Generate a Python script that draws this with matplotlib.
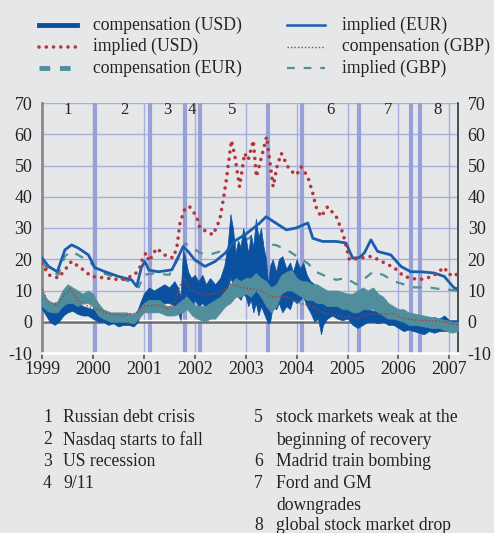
import glob
import matplotlib
matplotlib.use("Agg")
import matplotlib.pyplot as plt
from matplotlib import font_manager

# ---- data (years as decimals, values in basis points) ----
impl_eur_t = [1999.0, 1999.13, 1999.3, 1999.45, 1999.58, 1999.71, 1999.91, 2000.04, 2000.24,
              2000.5, 2000.76, 2000.86, 2000.95, 2001.02, 2001.1, 2001.29, 2001.55, 2001.68,
              2001.77, 2001.87, 2002.0, 2002.2, 2002.4, 2002.6, 2002.8, 2003.0, 2003.27, 2003.4,
              2003.6, 2003.8, 2003.99, 2004.22, 2004.32, 2004.51, 2004.78, 2004.97, 2005.1,
              2005.23, 2005.33, 2005.46, 2005.59, 2005.85, 2006.05, 2006.24, 2006.44, 2006.7,
              2006.9, 2007.09, 2007.17]
impl_eur_v = [20.4, 17.7, 16.0, 23.0, 24.6, 23.6, 21.4, 17.3, 16.0,
              14.5, 13.4, 11.3, 17.3, 19.3, 16.5, 16.0, 16.6, 20.9,
              24.0, 22.5, 19.8, 17.7, 19.3, 22.0, 26.0, 28.0, 31.5, 33.6,
              31.5, 29.4, 30.0, 31.6, 26.7, 25.7, 25.7, 25.2, 20.4,
              20.5, 22.0, 26.2, 22.5, 21.4, 17.7, 16.0, 16.0, 15.6,
              14.5, 10.9, 10.5]

impl_usd_t = [1999.0, 1999.13, 1999.32, 1999.45, 1999.58, 1999.78, 1999.97, 2000.24, 2000.56,
              2000.82, 2000.92, 2000.99, 2001.05, 2001.1, 2001.25, 2001.45, 2001.58, 2001.65,
              2001.71, 2001.81, 2001.9, 2002.04, 2002.1, 2002.17, 2002.36, 2002.49, 2002.56,
              2002.62, 2002.72, 2002.79, 2002.88, 2002.98, 2003.05, 2003.15, 2003.21, 2003.3,
              2003.41, 2003.54, 2003.62, 2003.7, 2003.86, 2004.0, 2004.09, 2004.22, 2004.32,
              2004.38, 2004.48, 2004.61, 2004.78, 2004.91, 2005.04, 2005.23, 2005.46, 2005.62,
              2005.79, 2005.89, 2006.11, 2006.41, 2006.67, 2006.9, 2006.99, 2007.12, 2007.17]
impl_usd_v = [18.7, 15.0, 14.0, 16.6, 19.3, 17.0, 14.5, 14.0, 13.4,
              15.0, 17.3, 21.0, 22.0, 19.3, 23.5, 20.9, 20.5, 24.0,
              31.6, 36.4, 36.8, 33.6, 30.0, 29.4, 27.8, 32.6, 39.0,
              45.4, 58.0, 52.8, 43.2, 53.9, 51.8, 58.0, 46.4, 52.0,
              59.2, 43.2, 50.0, 53.9, 48.6, 47.0, 49.6, 46.4, 41.0,
              36.8, 33.6, 36.8, 33.6, 28.3, 19.8, 20.3, 20.9, 19.8,
              18.2, 17.7, 14.5, 13.4, 14.5, 17.4, 15.0, 15.6, 14.0]

comp_gbp_t = [1999.0, 1999.1, 1999.3, 1999.45, 1999.55, 1999.7, 1999.9, 2000.1, 2000.3, 2000.6,
              2000.9, 2001.0, 2001.3, 2001.45, 2001.6, 2001.72, 2001.8, 2001.9, 2002.2, 2002.5,
              2002.7, 2002.9, 2003.1, 2003.3, 2003.5, 2003.8, 2004.05, 2004.3, 2004.5, 2004.8,
              2005.0, 2005.2, 2005.35, 2005.6, 2005.9, 2006.1, 2006.4, 2006.7, 2006.9, 2007.17]
comp_gbp_v = [10.5, 7.0, 5.0, 9.0, 10.5, 7.0, 5.0, 4.0, 2.5, 2.0,
              3.0, 5.0, 5.4, 4.0, 6.0, 12.0, 14.0, 10.0, 8.5, 9.5,
              12.0, 11.0, 10.5, 10.0, 8.0, 8.0, 6.0, 5.0, 3.0, 2.0,
              1.5, 1.0, 2.5, 2.5, 2.6, 1.0, 0.5, 0.3, 0.0, -1.0]

impl_gbp_t = [1999.0, 1999.13, 1999.32, 1999.45, 1999.58, 1999.75, 1999.95, 2000.1, 2000.3, 2000.5,
              2000.8, 2000.9, 2001.0, 2001.2, 2001.5, 2001.7, 2001.8, 2001.9, 2002.1, 2002.3,
              2002.6, 2002.8, 2003.0, 2003.2, 2003.35, 2003.6, 2003.86, 2004.05, 2004.22, 2004.38,
              2004.58, 2004.78, 2004.97, 2005.17, 2005.35, 2005.5, 2005.7, 2005.9, 2006.1, 2006.3,
              2006.6, 2006.8, 2007.17]
impl_gbp_v = [19.0, 16.5, 15.0, 21.0, 22.5, 21.0, 19.0, 16.0, 15.0, 14.0,
              12.5, 11.0, 15.0, 15.5, 15.0, 21.0, 25.0, 24.5, 22.0, 21.5,
              23.0, 25.0, 26.0, 28.3, 25.0, 24.5, 22.5, 20.4, 18.7, 16.0,
              14.5, 13.4, 14.0, 12.0, 14.0, 16.0, 15.0, 13.0, 12.0, 11.0,
              11.0, 10.5, 10.0]

# noisy daily series, kept as low / high envelopes
comp_usd_t = [1999.0, 1999.08, 1999.15, 1999.25, 1999.33, 1999.42, 1999.5, 1999.6, 1999.7, 1999.8,
              1999.9, 2000.0, 2000.1, 2000.2, 2000.3, 2000.4, 2000.5, 2000.6, 2000.7, 2000.8,
              2000.88, 2000.95, 2001.0, 2001.1, 2001.2, 2001.3, 2001.4, 2001.5, 2001.6, 2001.67,
              2001.72, 2001.77, 2001.82, 2001.87, 2001.93, 2002.0, 2002.07, 2002.15, 2002.22, 2002.3,
              2002.4, 2002.5, 2002.58, 2002.65, 2002.7, 2002.75, 2002.8, 2002.85, 2002.9, 2002.95,
              2003.0, 2003.05, 2003.1, 2003.15, 2003.2, 2003.25, 2003.3, 2003.35, 2003.4, 2003.44,
              2003.48, 2003.53, 2003.6, 2003.65, 2003.72, 2003.8, 2003.87, 2003.93, 2004.0, 2004.07,
              2004.13, 2004.2, 2004.27, 2004.35, 2004.42, 2004.48, 2004.52, 2004.6, 2004.7, 2004.8,
              2004.9, 2005.0, 2005.1, 2005.2, 2005.3, 2005.4, 2005.5, 2005.6, 2005.7, 2005.8,
              2005.9, 2006.0, 2006.1, 2006.2, 2006.3, 2006.4, 2006.5, 2006.6, 2006.7, 2006.8,
              2006.9, 2007.0, 2007.1, 2007.17]
comp_usd_lo = [4, 2, 0, -1, 0, 2, 3, 3.5, 2.5, 2,
               2, 1, 0, 0, -1, -0.5, -1.5, -1, -1, -1.5,
               0, 3, 4, 6, 5, 5, 6, 6, 5, 3,
               0.5, 6, 9, 6, 4, 7, 5, 6, 4, 6,
               5, 7, 8, 11, 14, 12, 10, 8, 7, 9,
               8, 5, 7, 3, 6, 2, 5, 3, 1, -0.5,
               0, 5, 4, 6, 3, 5, 4, 7, 6, 7,
               8, 5, 3, 0, 1, -4, -1, 1, 2, 1,
               0.5, 1, -1, -2, -1, 0, 0, -0.5, 0, -1,
               -1, -2, -3, -2.5, -3, -3.5, -4, -3, -3.5, -3,
               -3, -3, -2, -2]
comp_usd_hi = [8, 7, 5, 3.5, 4.5, 6, 7.5, 7, 6.5, 5,
               4.5, 4, 3.5, 3, 2.5, 2.5, 2, 2, 1.5, 2,
               4, 7, 9, 11, 10, 11, 12, 11, 13, 11,
               8, 23, 20, 16, 14, 15, 13, 15, 12, 14,
               12, 14, 18, 25, 34.5, 30, 22, 26, 24, 30,
               27, 22, 28, 24, 33, 27, 30, 24, 20, 12,
               18, 20, 16, 20, 21, 17, 19, 16, 20, 17,
               19, 15, 13, 12, 10, 8, 9, 10, 8, 9,
               7, 8, 6, 5, 5, 4, 3.5, 4, 3.5, 3,
               3, 2, 1.5, 1, 1.5, 0.5, 1, 1, 1.5, 1,
               2, 0.5, 0.5, 0.5]

comp_eur_t = [1999.0, 1999.1, 1999.2, 1999.3, 1999.4, 1999.5, 1999.6, 1999.7, 1999.8, 1999.9,
              2000.0, 2000.1, 2000.2, 2000.35, 2000.5, 2000.65, 2000.8, 2000.9, 2001.0, 2001.1,
              2001.3, 2001.45, 2001.6, 2001.75, 2001.85, 2001.95, 2002.05, 2002.2, 2002.3, 2002.4,
              2002.5, 2002.6, 2002.7, 2002.8, 2002.9, 2003.0, 2003.1, 2003.2, 2003.3, 2003.4,
              2003.5, 2003.6, 2003.7, 2003.8, 2003.9, 2004.0, 2004.1, 2004.2, 2004.3, 2004.4,
              2004.5, 2004.6, 2004.7, 2004.8, 2004.9, 2005.0, 2005.1, 2005.2, 2005.3, 2005.4,
              2005.5, 2005.6, 2005.7, 2005.8, 2005.9, 2006.0, 2006.1, 2006.2, 2006.35, 2006.5,
              2006.65, 2006.8, 2006.95, 2007.05, 2007.17]
comp_eur_lo = [5, 3.5, 3, 3, 5, 6, 6, 5, 6, 6,
               5, 2, 1, 0, 0, 0, -0.5, 1, 3, 3,
               3, 2, 2, 3, 4, 2, 1, 0, 1, 1,
               3, 5, 6, 8, 8, 9, 8, 10, 8, 5,
               3, 5, 9, 10, 10, 9, 8, 7, 7, 6,
               6, 5, 5, 5, 4, 4, 3, 3, 4, 4,
               4, 3, 2, 1, 1, 0.5, 0, -1, -1, -1.5,
               -2, -2, -3, -3.5, -3]
comp_eur_hi = [10, 7, 6, 6.5, 10, 12, 11, 10, 9, 10,
               9, 6, 4, 3, 3, 3, 2.5, 4, 6, 7,
               7, 5, 5, 7, 8, 6, 5, 5, 6, 7,
               8, 10, 12, 14, 13, 14, 14, 15.6, 14, 13,
               11, 12, 15, 16, 16.6, 14, 13, 13, 12, 12,
               11, 10, 10, 10, 9.5, 9, 9, 10, 11, 10,
               11, 9, 8, 6, 5, 4, 4, 3, 2.5, 2,
               1.5, 1, 0.5, 0, 0]

event_dates = [2000.04, 2001.13, 2001.8, 2002.1, 2003.43, 2004.1, 2005.23, 2006.25, 2006.42]
event_label_pos = [1999.5, 2000.61, 2001.46, 2001.95, 2002.73, 2004.67, 2005.8, 2006.76]
event_labels = ["1", "2", "3", "4", "5", "6", "7", "8"]

legend_labels = ["compensation (USD)", "implied (USD)", "compensation (EUR)",
                 "implied (EUR)", "compensation (GBP)", "implied (GBP)"]
notes_left = ["Russian debt crisis", "Nasdaq starts to fall", "US recession", "9/11"]
notes_right = ["stock markets weak at the\nbeginning of recovery", "Madrid train bombing",
               "Ford and GM\ndowngrades", "global stock market drop"]

years = list(range(1999, 2008))

# ---- fonts: look for a Times-like serif ----
for pat in ["LiberationSerif*.ttf", "Tinos*.ttf", "NimbusRoman*", "FreeSerif*.ttf", "Times*.ttf"]:
    for f in glob.glob("/usr/share/fonts/**/" + pat, recursive=True):
        try:
            font_manager.fontManager.addfont(f)
        except Exception:
            pass
have = {f.name for f in font_manager.fontManager.ttflist}
SERIF = "DejaVu Serif"
for name in ["Liberation Serif", "Tinos", "Nimbus Roman", "Nimbus Roman No9 L", "FreeSerif",
             "Times New Roman"]:
    if name in have:
        SERIF = name
        break
plt.rcParams["font.family"] = [SERIF, "DejaVu Serif"]
plt.rcParams["axes.unicode_minus"] = False
FS = 13 if SERIF != "DejaVu Serif" else 11.5

# ---- style ----
BG = "#e6e7e9"
DBLUE = "#0a52a0"
BLUE = "#1a5fae"
TEAL = "#508e9b"
RED = "#b3363a"
GRID = "#a7aedb"
EVENT = "#97a1d6"
TXT = "#222222"
DOTS = (0, (0.01, 2.0))

W, H = 494, 533
fig = plt.figure(figsize=(W / 100, H / 100), dpi=100, facecolor=BG)
ax = fig.add_axes([42 / W, 1 - 353 / H, 416 / W, 250 / H], facecolor=BG)

ax.set_xlim(1999.0, 2007.17)
ax.set_ylim(-10, 70)

for y in range(10, 71, 10):
    ax.axhline(y, color=GRID, lw=1.0, zorder=0)
for yr in years[1:]:
    ax.axvline(yr, color=GRID, lw=1.0, zorder=0)
for d in event_dates:
    ax.axvline(d, color=EVENT, lw=3.0, zorder=0.5)

ax.axhline(0, color="#6b6b6b", lw=1.8, zorder=0.6)
ax.axhline(0.45, color="white", lw=1.0, zorder=0.6)

# series
ax.plot(impl_gbp_t, impl_gbp_v, color=TEAL, lw=1.6, ls=(0, (4, 4)), zorder=2)
ax.fill_between(comp_usd_t, comp_usd_lo, comp_usd_hi, color=DBLUE, lw=0.5,
                edgecolor=DBLUE, zorder=3)
ax.fill_between(comp_eur_t, comp_eur_lo, comp_eur_hi, color=TEAL, lw=0.5,
                edgecolor=TEAL, zorder=3.5)
ax.plot(impl_eur_t, impl_eur_v, color=BLUE, lw=2.0, zorder=4)
ax.plot(comp_gbp_t, comp_gbp_v, color=RED, lw=1.0, ls=(0, (1, 1.5)), zorder=5)
ax.plot(impl_usd_t, impl_usd_v, color=RED, lw=2.6, ls=DOTS,
        dash_capstyle="round", zorder=6)

for x, lab in zip(event_label_pos, event_labels):
    ax.text(x, 67.7, lab, ha="center", va="center", fontsize=FS - 1, color=TXT)

# axes cosmetics
ax.spines["top"].set_visible(False)
ax.spines["left"].set_color("#8a8a8a")
ax.spines["left"].set_linewidth(2.0)
ax.spines["right"].set_color("#333333")
ax.spines["right"].set_linewidth(1.2)
ax.spines["bottom"].set_color("white")
ax.spines["bottom"].set_linewidth(1.8)

ax.set_xticks(years)
ax.set_xticklabels([str(y) for y in years], fontsize=FS, color=TXT)
ax.tick_params(axis="x", direction="out", length=4, width=1.2, color="#555555", pad=2)
ax.set_yticks(range(-10, 71, 10))
ax.tick_params(axis="y", length=0, labelsize=FS, labelcolor=TXT, pad=7)

axr = ax.twinx()
axr.set_ylim(ax.get_ylim())
axr.set_yticks(range(-10, 71, 10))
axr.tick_params(axis="y", length=0, labelsize=FS, labelcolor=TXT, pad=7)
for s in axr.spines.values():
    s.set_visible(False)

# legend and notes drawn on a pixel-space overlay
lay = fig.add_axes([0, 0, 1, 1], facecolor="none")
lay.set_xlim(0, W)
lay.set_ylim(H, 0)
lay.axis("off")

styles = [
    dict(color=DBLUE, lw=3.5),
    dict(color=RED, lw=2.6, ls=DOTS, dash_capstyle="round"),
    dict(color=TEAL, lw=3.5, ls=(0, (2.2, 2.0))),
    dict(color=BLUE, lw=1.8),
    dict(color=RED, lw=1.0, ls=(0, (1, 1.5))),
    dict(color=TEAL, lw=1.6, ls=(0, (3.5, 4))),
]
rows_y = [25, 46.5, 68]
for i, (lab, st) in enumerate(zip(legend_labels, styles)):
    col, row = divmod(i, 3)
    x0 = [39, 287][col]
    tx = [93, 342][col]
    y = rows_y[row]
    lay.plot([x0, x0 + 38], [y, y], **st)
    lay.text(tx, y, lab, fontsize=FS - 0.3, va="center", ha="left", color=TXT)

note_rows = [418, 440, 462, 483, 505, 525]
for i, txt in enumerate(notes_left):
    lay.text(43, note_rows[i], str(i + 1), fontsize=FS - 0.3, va="center", color=TXT)
    lay.text(63, note_rows[i], txt, fontsize=FS - 0.3, va="center", color=TXT)
r = 0
for i, txt in enumerate(notes_right):
    lay.text(254, note_rows[r], str(i + 5), fontsize=FS - 0.3, va="center", color=TXT)
    for line in txt.split("\n"):
        lay.text(276, note_rows[r], line, fontsize=FS - 0.3, va="center", color=TXT)
        r += 1

fig.savefig("out.png", dpi=100, facecolor=BG)
